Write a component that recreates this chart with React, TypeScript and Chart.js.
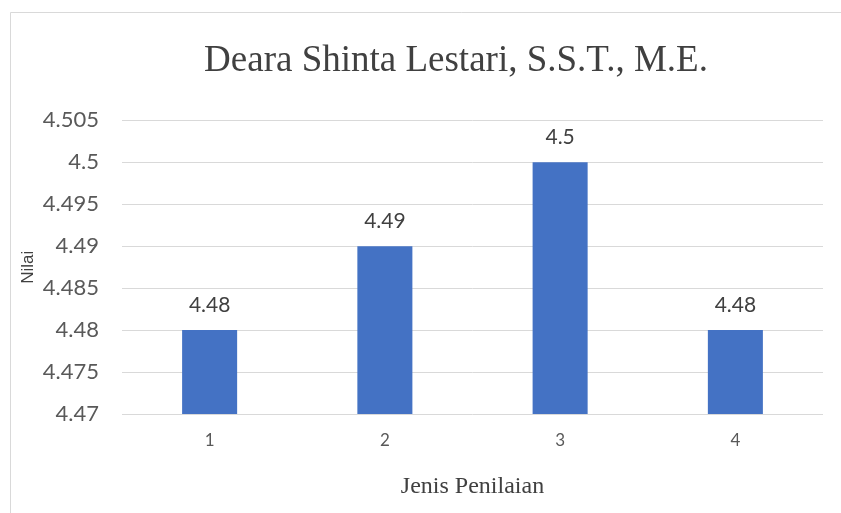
import React, { useEffect, useRef } from "react";
import { Chart, registerables } from "chart.js";

Chart.register(...registerables);

const categories = ["1", "2", "3", "4"];
const values = [4.48, 4.49, 4.5, 4.48];
const yMin = 4.47;
const yMax = 4.505;
const yStep = 0.005;
const chartTitle = "Deara Shinta Lestari, S.S.T., M.E.";
const xTitle = "Jenis Penilaian";
const yTitle = "Nilai";

const SANS = "Lato, 'Noto Sans', sans-serif";
const SERIF = "'Liberation Serif', 'DejaVu Serif', serif";

const framePlugin = {
  id: "frame",
  beforeDraw(chart: any) {
    const ctx = chart.ctx;
    ctx.save();
    ctx.fillStyle = "#ffffff";
    ctx.fillRect(0, 0, chart.width, chart.height);
    ctx.strokeStyle = "#d9d9d9";
    ctx.lineWidth = 1;
    ctx.beginPath();
    ctx.moveTo(10.5, chart.height);
    ctx.lineTo(10.5, 12.5);
    ctx.lineTo(chart.width, 12.5);
    ctx.stroke();
    ctx.restore();
  },
};

const labelPlugin = {
  id: "valueLabels",
  afterDatasetsDraw(chart: any) {
    const ctx = chart.ctx;
    const meta = chart.getDatasetMeta(0);
    ctx.save();
    ctx.font = `21px ${SANS}`;
    ctx.fillStyle = "#404040";
    ctx.textAlign = "center";
    ctx.textBaseline = "middle";
    meta.data.forEach((bar: any, i: number) => {
      const v = chart.data.datasets[0].data[i];
      ctx.fillText(String(v), bar.x, bar.y - 25);
    });
    ctx.restore();
  },
};

export default function App() {
  const ref = useRef<HTMLCanvasElement>(null);
  useEffect(() => {
    if (!ref.current) return;
    const chart = new Chart(ref.current, {
      type: "bar",
      data: {
        labels: categories,
        datasets: [
          {
            data: values,
            backgroundColor: "#4472C4",
            borderWidth: 0,
            categoryPercentage: 1,
            barPercentage: 0.314,
          },
        ],
      },
      options: {
        animation: false,
        responsive: false,
        devicePixelRatio: 1,
        layout: { padding: 0 },
        plugins: {
          legend: { display: false },
          tooltip: { enabled: false },
          title: {
            display: true,
            text: chartTitle,
            color: "#404040",
            font: { family: SERIF, size: 37, weight: "normal", lineHeight: 1.2 },
            padding: { top: 39, bottom: 37 },
          },
        },
        scales: {
          x: {
            grid: { display: false },
            border: { display: false },
            ticks: {
              color: "#595959",
              font: { family: SANS, size: 17 },
              padding: 8,
            },
            title: {
              display: true,
              text: xTitle,
              color: "#404040",
              font: { family: SERIF, size: 24, lineHeight: 1.2 },
              padding: { top: 0, bottom: 12 },
            },
            afterFit: (s: any) => {
              s.height = 99;
            },
          },
          y: {
            min: yMin,
            max: yMax,
            grid: { color: "#d9d9d9", drawTicks: false, lineWidth: 1 },
            border: { display: false },
            ticks: {
              stepSize: yStep,
              color: "#595959",
              font: { family: SANS, size: 22 },
              padding: 23,
              callback: (v: any) => String(parseFloat(Number(v).toFixed(3))),
            },
            title: {
              display: true,
              text: yTitle,
              color: "#404040",
              font: { family: "'Liberation Sans', Arial, sans-serif", size: 17, lineHeight: 1.2 },
              padding: { top: 18, bottom: 0 },
            },
            afterFit: (s: any) => {
              s.width = 122;
            },
          },
          spacer: {
            type: "linear",
            position: "right",
            display: true,
            min: yMin,
            max: yMax,
            grid: { display: false },
            border: { display: false },
            ticks: { display: false },
            afterFit: (s: any) => {
              s.width = 89;
            },
          },
        },
      },
      plugins: [framePlugin, labelPlugin],
    });
    return () => chart.destroy();
  }, []);
  return (
    <div
      style={{
        position: "fixed",
        left: 0,
        top: 0,
        width: 841,
        height: 513,
        overflow: "hidden",
        background: "#fff",
      }}
    >
      <canvas ref={ref} width={912} height={513} style={{ display: "block", width: 912, height: 513 }} />
    </div>
  );
}
